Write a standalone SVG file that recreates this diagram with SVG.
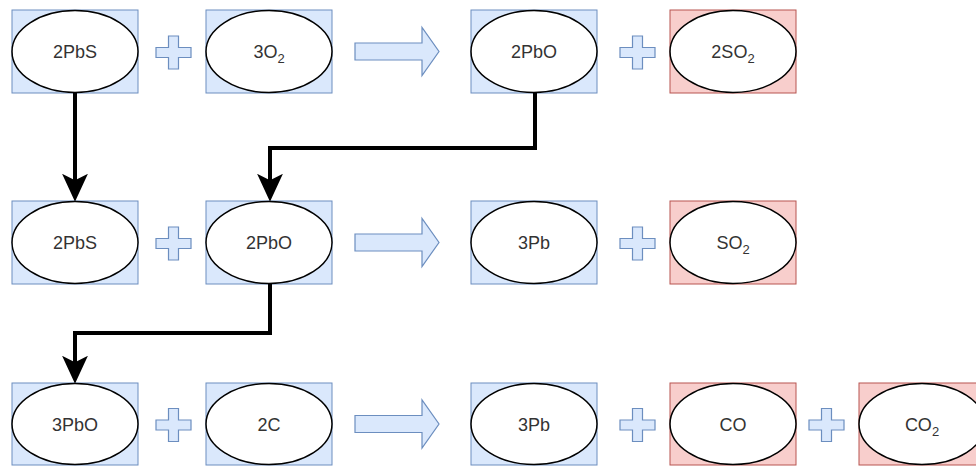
<svg xmlns="http://www.w3.org/2000/svg" width="976" height="466" viewBox="0 0 976 466">
<style>
.bb{fill:#dae8fc;stroke:#6c8ebf;stroke-width:1}
.rb{fill:#f8cecc;stroke:#b85450;stroke-width:1}
.el{fill:#ffffff;stroke:#000000;stroke-width:1.5}
.tx{font-family:"Liberation Sans",Arial,sans-serif;font-size:18px;fill:#333333;text-anchor:middle}
.sub{font-size:13px}
.op{fill:#dae8fc;stroke:#6c8ebf;stroke-width:1.2}
.cn{fill:none;stroke:#000000;stroke-width:4;stroke-linejoin:miter}
</style>
<defs>
<marker id="ah" markerUnits="userSpaceOnUse" markerWidth="28" markerHeight="26" viewBox="0 0 26 24" refX="16" refY="12" orient="auto">
<path d="M0,0 L26,12 L0,24 L6,12 Z" fill="#000000"/>
</marker>
<path id="plus" d="M-5,-16.5 H5 V-5 H17.5 V5 H5 V16.5 H-5 V5 H-17.5 V-5 H-5 Z"/>
<path id="arr" d="M0,-8.5 H67 V-24 L84,0 L67,24 V8.5 H0 Z"/>
</defs>

<!-- Row 1 -->
<g id="n-2PbS-1"><rect class="bb" x="12" y="10" width="126" height="83"/><ellipse class="el" cx="75" cy="51.5" rx="63" ry="41"/><text class="tx" x="75" y="58">2PbS</text></g>
<g id="n-3O2"><rect class="bb" x="206" y="10" width="126" height="83"/><ellipse class="el" cx="269" cy="51.5" rx="63" ry="41"/><text class="tx" x="269" y="58">3O<tspan class="sub" dy="5">2</tspan></text></g>
<g id="n-2PbO-1"><rect class="bb" x="471" y="10" width="126" height="83"/><ellipse class="el" cx="534" cy="51.5" rx="63" ry="41"/><text class="tx" x="534" y="58">2PbO</text></g>
<g id="n-2SO2"><rect class="rb" x="670" y="10" width="126" height="83"/><ellipse class="el" cx="733" cy="51.5" rx="63" ry="41"/><text class="tx" x="733" y="58">2SO<tspan class="sub" dy="5">2</tspan></text></g>
<g id="op-r1"><use href="#plus" class="op" x="173.5" y="52.5"/><use href="#arr" class="op" x="355" y="51.5"/><use href="#plus" class="op" x="637.5" y="52.5"/></g>

<!-- Row 2 -->
<g id="n-2PbS-2"><rect class="bb" x="12" y="201" width="126" height="83"/><ellipse class="el" cx="75" cy="242.5" rx="63" ry="41"/><text class="tx" x="75" y="249">2PbS</text></g>
<g id="n-2PbO-2"><rect class="bb" x="206" y="201" width="126" height="83"/><ellipse class="el" cx="269" cy="242.5" rx="63" ry="41"/><text class="tx" x="269" y="249">2PbO</text></g>
<g id="n-3Pb-1"><rect class="bb" x="471" y="201" width="126" height="83"/><ellipse class="el" cx="534" cy="242.5" rx="63" ry="41"/><text class="tx" x="534" y="249">3Pb</text></g>
<g id="n-SO2"><rect class="rb" x="670" y="201" width="126" height="83"/><ellipse class="el" cx="733" cy="242.5" rx="63" ry="41"/><text class="tx" x="733" y="249">SO<tspan class="sub" dy="5">2</tspan></text></g>
<g id="op-r2"><use href="#plus" class="op" x="173.5" y="243.5"/><use href="#arr" class="op" x="355" y="242.5"/><use href="#plus" class="op" x="637.5" y="243.5"/></g>

<!-- Row 3 -->
<g id="n-3PbO"><rect class="bb" x="12" y="383" width="126" height="82"/><ellipse class="el" cx="75" cy="424" rx="63" ry="40.5"/><text class="tx" x="75" y="430.5">3PbO</text></g>
<g id="n-2C"><rect class="bb" x="206" y="383" width="126" height="82"/><ellipse class="el" cx="269" cy="424" rx="63" ry="40.5"/><text class="tx" x="269" y="430.5">2C</text></g>
<g id="n-3Pb-2"><rect class="bb" x="471" y="383" width="126" height="82"/><ellipse class="el" cx="534" cy="424" rx="63" ry="40.5"/><text class="tx" x="534" y="430.5">3Pb</text></g>
<g id="n-CO"><rect class="rb" x="670" y="383" width="126" height="82"/><ellipse class="el" cx="733" cy="424" rx="63" ry="40.5"/><text class="tx" x="733" y="430.5">CO</text></g>
<g id="n-CO2"><rect class="rb" x="859" y="383" width="126" height="82"/><ellipse class="el" cx="922" cy="424" rx="63" ry="40.5"/><text class="tx" x="922" y="430.5">CO<tspan class="sub" dy="5">2</tspan></text></g>
<g id="op-r3"><use href="#plus" class="op" x="173.5" y="425"/><use href="#arr" class="op" x="355" y="424"/><use href="#plus" class="op" x="637.5" y="425"/><use href="#plus" class="op" x="826.5" y="425"/></g>

<g id="connectors">
<path class="cn" d="M75,93 V191" marker-end="url(#ah)"/>
<path class="cn" d="M535,93 V148 H270 V191" marker-end="url(#ah)"/>
<path class="cn" d="M270,284 V333 H75 V373" marker-end="url(#ah)"/>
</g>
</svg>
